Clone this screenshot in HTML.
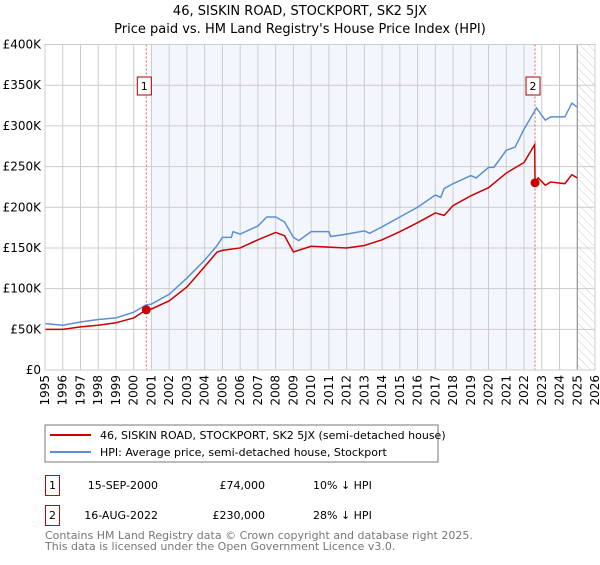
<!DOCTYPE html>
<html><head><meta charset="utf-8"><style>
body{margin:0;background:#fff;font-family:"Liberation Sans","DejaVu Sans",sans-serif;}
svg text{font-family:"DejaVu Sans","Liberation Sans",sans-serif;}
</style></head><body>
<svg width="600" height="560" xmlns="http://www.w3.org/2000/svg">
<defs><pattern id="hatch" width="6" height="6" patternUnits="userSpaceOnUse" patternTransform="rotate(-45)"><line x1="0" y1="0" x2="0" y2="6" stroke="#ccc" stroke-width="1"/></pattern></defs>
<text x="300" y="15" text-anchor="middle" font-size="13">46, SISKIN ROAD, STOCKPORT, SK2 5JX</text>
<text x="300" y="33" text-anchor="middle" font-size="13">Price paid vs. HM Land Registry's House Price Index (HPI)</text>
<g id="plot"></g>
<g>
<rect x="45" y="425" width="393" height="37" fill="#fff" stroke="#777"/>
<line x1="50" y1="435" x2="91" y2="435" stroke="#cc0000" stroke-width="2"/>
<text x="100" y="439" font-size="11">46, SISKIN ROAD, STOCKPORT, SK2 5JX (semi-detached house)</text>
<line x1="50" y1="452" x2="91" y2="452" stroke="#5b8fd4" stroke-width="2"/>
<text x="100" y="456" font-size="11">HPI: Average price, semi-detached house, Stockport</text>
</g>
<g font-size="11">
<rect x="45.5" y="475.5" width="14" height="20" fill="#fff" stroke="#cc0000"/><text x="52.5" y="489" text-anchor="middle">1</text>
<text x="158" y="489" text-anchor="end">15-SEP-2000</text><text x="265" y="489" text-anchor="end">£74,000</text><text x="313" y="489">10% ↓ HPI</text>
<rect x="45.5" y="505.5" width="14" height="20" fill="#fff" stroke="#cc0000"/><text x="52.5" y="519" text-anchor="middle">2</text>
<text x="158" y="519" text-anchor="end">16-AUG-2022</text><text x="265" y="519" text-anchor="end">£230,000</text><text x="313" y="519">28% ↓ HPI</text>
</g>
<text x="45" y="539" font-size="11" fill="#777">Contains HM Land Registry data © Crown copyright and database right 2025.</text>
<text x="45" y="550" font-size="11" fill="#777">This data is licensed under the Open Government Licence v3.0.</text>
</svg>
<script>
const hpiYears=[1995,1996,1996.5,1997,1998,1999,2000,2000.7,2001,2002,2003,2004,2004.7,2005,2005.5,2005.6,2006,2007,2007.5,2008,2008.5,2009,2009.3,2010,2011,2011.1,2012,2013,2013.3,2014,2015,2016,2017,2017.3,2017.5,2018,2019,2019.3,2020,2020.3,2021,2021.5,2022,2022.7,2023.2,2023.5,2024.3,2024.7,2025];
const hpiValues=[57,55,57,59,62,64,71,80,81,93,113,135,153,163,163,170,167,177,188,188,182,163,159,170,170,164,167,171,168,176,188,200,215,212,223,229,239,236,249,249,270,274,296,322,307,311,311,328,323];
const priceYears=[1995,1996,1997,1998,1999,2000,2000.71,2001,2002,2003,2004,2004.7,2005,2006,2007,2008,2008.5,2009,2010,2011,2012,2013,2014,2015,2016,2017,2017.5,2018,2019,2020,2021,2022,2022.6,2022.62,2022.8,2023.2,2023.5,2024.3,2024.7,2025];
const priceValues=[50,50,53,55,58,64,74,75,85,102,127,145,147,150,160,169,165,145,152,151,150,153,160,170,181,193,190,202,214,224,242,255,277,230,236,227,231,229,240,236];
const saleYears=[2000.71,2022.62];
const saleValues=[74,230];
const saleLabels=["1","2"];
const yTicks=[0,50,100,150,200,250,300,350,400];
const yTickLabels=["£0","£50K","£100K","£150K","£200K","£250K","£300K","£350K","£400K"];
const xTicks=[1995,1996,1997,1998,1999,2000,2001,2002,2003,2004,2005,2006,2007,2008,2009,2010,2011,2012,2013,2014,2015,2016,2017,2018,2019,2020,2021,2022,2023,2024,2025,2026];
const L=45,R=595,T=44.5,B=370;
const X=y=>L+(y-1995)/(2026-1995)*(R-L);
const Y=v=>B-v/400*(B-T);
const g=document.getElementById('plot');
const NS='http://www.w3.org/2000/svg';
function mk(t,a){const e=document.createElementNS(NS,t);for(const k in a)e.setAttribute(k,a[k]);g.appendChild(e);return e;}
let e;
e=mk('rect',{x:X(2001),y:T,width:X(2022.62)-X(2001),height:B-T,fill:'#eef3fc',opacity:0.7});


e=mk('rect',{x:X(2025),y:T,width:R-X(2025),height:B-T,fill:'url(#hatch)'});


yTicks.forEach((v,i)=>{
 e=mk('line',{x1:L,x2:R,y1:Y(v),y2:Y(v),stroke:'#ccc','stroke-width':1});
 
 
 e=mk('text',{x:L-4,y:Y(v)+4,'text-anchor':'end','font-size':12});
 e.textContent=yTickLabels[i];
 
 
});
xTicks.forEach(v=>{
 e=mk('line',{x1:X(v),x2:X(v),y1:T,y2:B,stroke:'#ccc','stroke-width':1});
 
 
 e=mk('text',{x:0,y:0,'text-anchor':'end','font-size':12,transform:`translate(${X(v)+4},${B+5}) rotate(-90)`});
 e.textContent=v;
 
 
});
e=mk('line',{x1:X(2025),x2:X(2025),y1:T,y2:B,stroke:'#888','stroke-width':1});


saleYears.forEach((s,i)=>{
 e=mk('line',{x1:X(s),x2:X(s),y1:T,y2:B,stroke:'#e06060','stroke-width':1,'stroke-dasharray':'2,2'});
 
 
});
function line(xs,vs,col,name){
 e=mk('polyline',{points:xs.map((x,i)=>X(x)+','+Y(vs[i])).join(' '),fill:'none',stroke:col,'stroke-width':1.5});
 
 
}
line(hpiYears,hpiValues,'#5b8fd4','hpi-line');
line(priceYears,priceValues,'#cc0000','price-line');
saleYears.forEach((s,i)=>{
 e=mk('circle',{cx:X(s),cy:Y(saleValues[i]),r:4.5,fill:'#cc0000'});
 
 
 e=mk('rect',{x:X(s)-9,y:77,width:14,height:18,fill:'#fff',stroke:'#aa0000'});
 
 
 e=mk('text',{x:X(s)-2,y:90,'text-anchor':'middle','font-size':11});
 e.textContent=saleLabels[i];
 
 
});
e=mk('rect',{x:L,y:T,width:R-L,height:B-T,fill:'none',stroke:'#ccc'});


</script>
</body></html>
